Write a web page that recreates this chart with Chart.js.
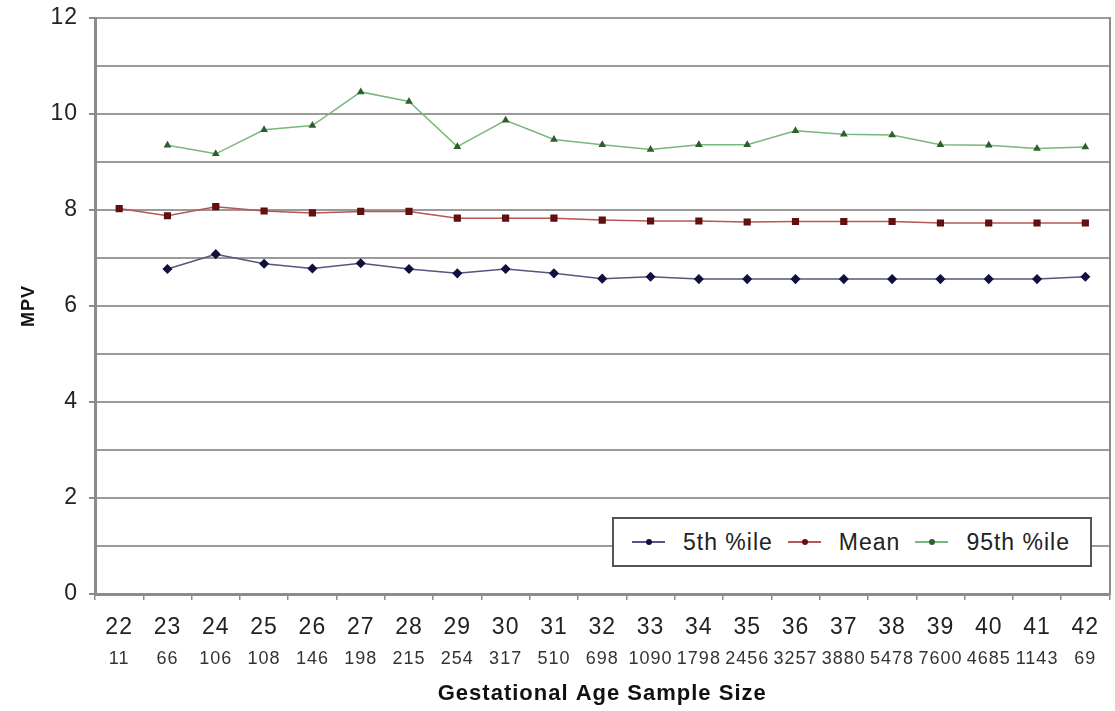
<!DOCTYPE html>
<html lang="en">
<head>
    <meta charset="UTF-8">
    <title>MPV by Gestational Age</title>
    <script src="https://cdn.jsdelivr.net/npm/chart.js"></script>
    <style>
        body {
            margin: 0;
            background: #fff;
            font-family: 'Liberation Sans', Arial, sans-serif;
        }
        #wrap {
            position: relative;
            width: 1115px;
            height: 711px;
        }
        #legend {
            position: absolute;
            left: 612px;
            top: 517px;
            width: 476px;
            height: 46px;
            border: 2px solid #555;
            background: #fff;
            display: flex;
            align-items: center;
            font-size: 23px;
            letter-spacing: 1px;
            color: #222;
        }
        .item { display: flex; align-items: center; margin-left: 15px; }
        .item:first-child { margin-left: 18px; }
        .swatch { position: relative; width: 33px; height: 10px; margin-right: 18px; }
        .swatch .ln { position: absolute; left: 0; right: 0; top: 4px; height: 2px; }
        .swatch .dot { position: absolute; left: 14px; top: 2px; width: 6px; height: 6px; border-radius: 50%; }
    </style>
</head>
<body>
<div id="wrap">
    <canvas id="mpvChart"></canvas>
    <div id="legend"></div>
</div>
<script>
    // gestational age (weeks) and number of samples per week
    const ages = ['22','23','24','25','26','27','28','29','30','31','32','33','34','35','36','37','38','39','40','41','42'];
    const sampleSizes = ['11','66','106','108','146','198','215','254','317','510','698','1090','1798','2456','3257','3880','5478','7600','4685','1143','69'];

    const p5 = [null, 6.77, 7.08, 6.88, 6.78, 6.89, 6.77, 6.68, 6.77, 6.68, 6.57, 6.61, 6.56, 6.56, 6.56, 6.56, 6.56, 6.56, 6.56, 6.56, 6.61];
    const mean = [8.03, 7.88, 8.07, 7.98, 7.94, 7.97, 7.97, 7.83, 7.83, 7.83, 7.79, 7.77, 7.77, 7.75, 7.76, 7.76, 7.76, 7.73, 7.73, 7.73, 7.73];
    const p95 = [null, 9.35, 9.17, 9.67, 9.76, 10.46, 10.26, 9.32, 9.87, 9.47, 9.36, 9.26, 9.36, 9.36, 9.65, 9.58, 9.56, 9.36, 9.35, 9.28, 9.31];

    const seriesNames = ['5th %ile', 'Mean', '95th %ile'];

    const grey = '#8c8c8c';
    const font = 'Liberation Sans, Arial, sans-serif';

    const datasets = [
        { label: seriesNames[0], data: p5, borderColor: '#55557f', backgroundColor: '#101040',
          pointStyle: 'rectRot', pointRadius: 4, pointBorderColor: '#101040' },
        { label: seriesNames[1], data: mean, borderColor: '#b85555', backgroundColor: '#6a0f0f',
          pointStyle: 'rect', pointRadius: 4, pointBorderColor: '#5a1010' },
        { label: seriesNames[2], data: p95, borderColor: '#78b878', backgroundColor: '#2f5f2f',
          pointStyle: 'triangle', pointRadius: 3, pointBorderColor: '#2f5f2f' }
    ].map(d => Object.assign({ borderWidth: 1.5, tension: 0, spanGaps: false }, d));

    // html legend drawn inside the plot, bottom right
    const legendEl = document.getElementById('legend');
    datasets.forEach(d => {
        const it = document.createElement('div');
        it.className = 'item';
        it.innerHTML = '<span class="swatch"><span class="ln" style="background:' + d.borderColor +
            '"></span><span class="dot" style="background:' + d.backgroundColor + '"></span></span>' +
            '<span>' + d.label + '</span>';
        legendEl.appendChild(it);
    });

    // the source figure's lettering is a bit wide, so space the canvas text out
    const spacing = {
        id: 'spacing',
        beforeInit: c => { c.ctx.letterSpacing = '1px'; },
        beforeUpdate: c => { c.ctx.letterSpacing = '1px'; },
        beforeDraw: c => { c.ctx.letterSpacing = '1px'; }
    };

    new Chart(document.getElementById('mpvChart'), {
        type: 'line',
        data: { labels: ages, datasets: datasets },
        plugins: [spacing],
        options: {
            responsive: true,
            maintainAspectRatio: false,
            animation: false,
            layout: { padding: { top: 18, right: 0, left: 0, bottom: 0 } },
            plugins: { legend: { display: false }, tooltip: { enabled: false } },
            scales: {
                x: {
                    type: 'category',
                    position: 'bottom',
                    offset: true,
                    grid: { offset: true, drawOnChartArea: false, color: grey, tickLength: 6, lineWidth: 1.5 },
                    border: { color: grey, width: 3 },
                    ticks: { color: '#222', font: { family: font, size: 23 }, padding: 14, maxRotation: 0, autoSkip: false },
                    afterFit: s => { s.height = 46; }
                },
                x2: {
                    type: 'category',
                    position: 'bottom',
                    offset: true,
                    labels: sampleSizes,
                    grid: { display: false, drawTicks: false },
                    border: { display: false },
                    ticks: { color: '#333', font: { family: font, size: 18 }, padding: 8, maxRotation: 0, autoSkip: false },
                    title: { display: true, text: 'Gestational Age Sample Size', color: '#111',
                             font: { family: font, size: 22, weight: 'bold' }, padding: { top: 4, bottom: 4 } },
                    afterFit: s => { s.height = 71; }
                },
                y: {
                    min: 0,
                    max: 12,
                    ticks: {
                        stepSize: 1,
                        color: '#222',
                        font: { family: font, size: 23 },
                        padding: 11,
                        callback: v => (v % 2 === 0 ? v : '')
                    },
                    grid: {
                        color: '#9a9a9a',
                        lineWidth: 2,
                        tickLength: 6,
                        tickColor: c => (c.tick && c.tick.value % 2 === 0 ? grey : 'rgba(0,0,0,0)')
                    },
                    border: { color: grey, width: 3 },
                    title: { display: true, text: 'MPV', color: '#111',
                             font: { family: font, size: 18, weight: 'bold' }, padding: { top: 18, bottom: 0 } },
                    afterFit: s => { s.width = 95; s.paddingTop = 0; s.paddingBottom = 0; }
                },
                yRight: {
                    position: 'right',
                    min: 0,
                    max: 12,
                    ticks: { display: false },
                    grid: { display: false, drawTicks: false },
                    border: { color: grey, width: 2 },
                    afterFit: s => { s.width = 2; s.paddingTop = 0; s.paddingBottom = 0; }
                }
            }
        }
    });
</script>
</body>
</html>
